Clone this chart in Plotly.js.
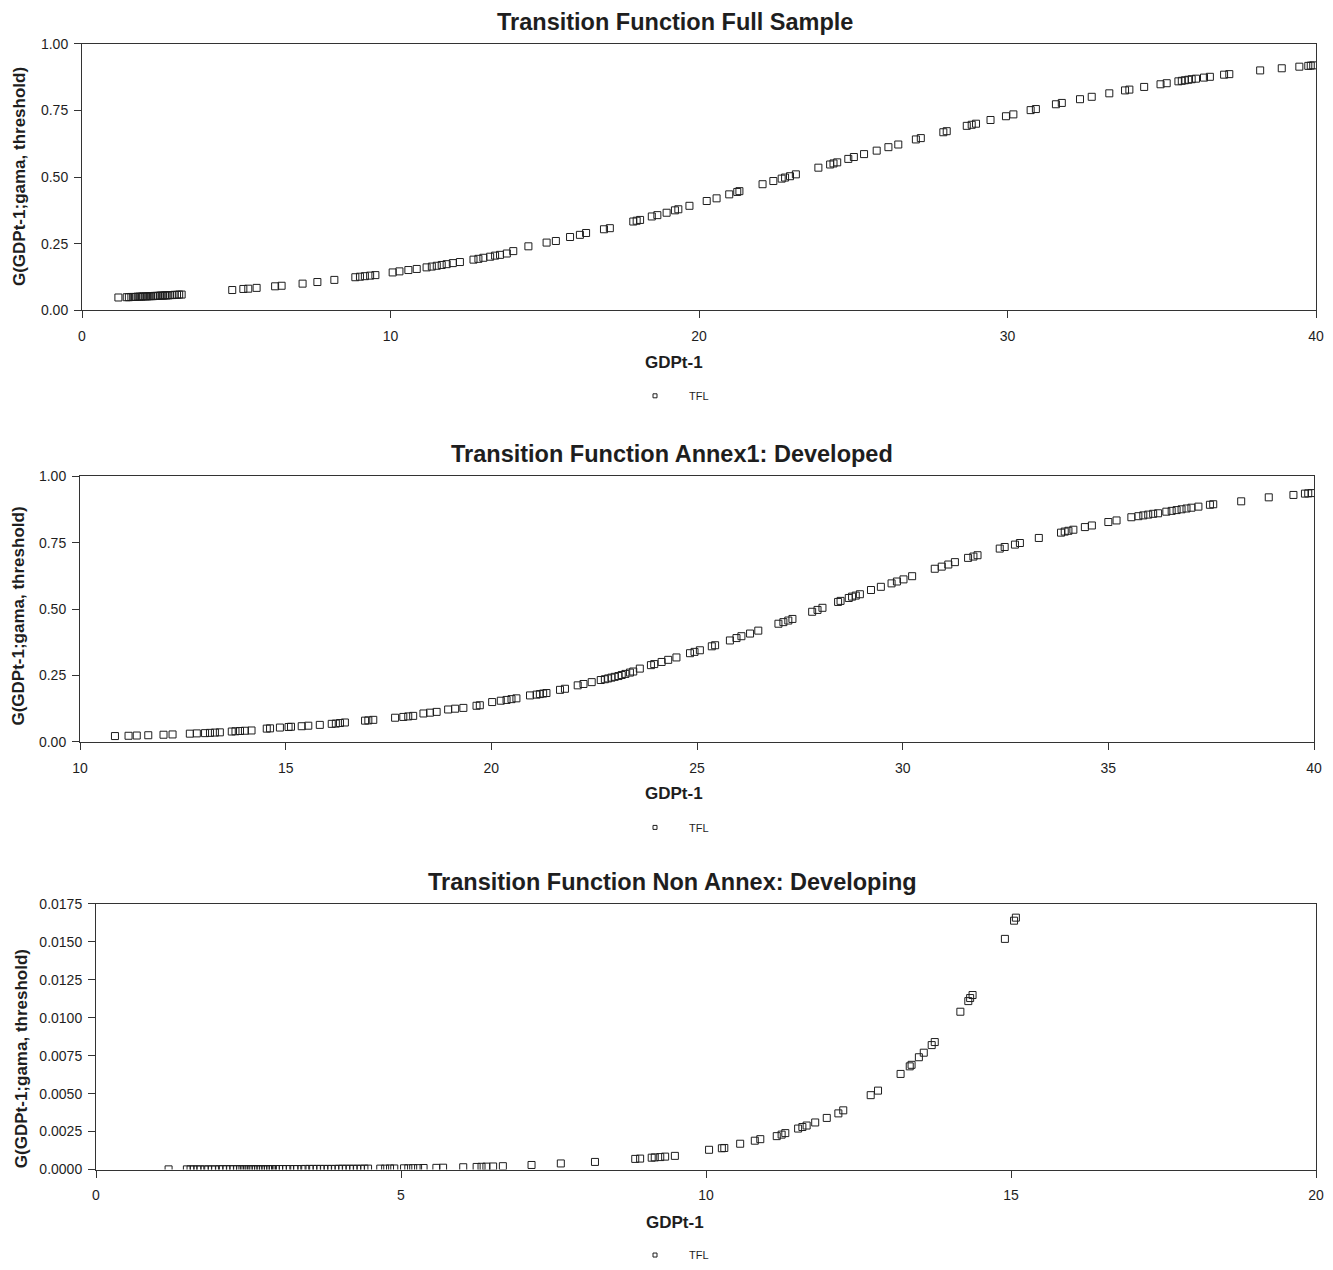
<!DOCTYPE html>
<html>
<head>
<meta charset="utf-8">
<script src="https://cdn.plot.ly/plotly-3.0.1.min.js"></script>
<style>html,body{margin:0;padding:0;background:#fff;}#chart{width:1333px;height:1270px;}</style>
</head>
<body>
<div id="chart"></div>
<script>
// ---- Data ----
const titles = ["Transition Function Full Sample", "Transition Function Annex1: Developed", "Transition Function Non Annex: Developing"];
const xTitle = "GDPt-1";
const yTitle = "G(GDPt-1;gama, threshold)";
const seriesName = "TFL";

const fullX = [1.18,1.45,1.52,1.60,1.66,1.72,1.80,1.86,1.92,1.98,2.05,2.11,2.18,2.24,2.30,2.36,2.42,2.47,2.53,2.58,2.63,2.69,2.74,2.80,2.86,2.93,3.00,3.08,3.15,3.23,
4.87,5.23,5.39,5.66,6.26,6.47,7.15,7.63,8.18,8.86,9.01,9.17,9.34,9.51,10.07,10.29,10.58,10.85,11.17,11.34,11.50,11.66,11.82,12.02,12.25,
12.69,12.85,13.01,13.23,13.39,13.55,13.77,13.98,14.47,15.06,15.36,15.82,16.14,16.34,16.92,17.11,17.87,17.98,18.09,18.47,18.65,18.95,19.22,19.33,19.69,
20.25,20.57,20.98,21.24,21.31,22.06,22.41,22.68,22.79,22.95,23.14,23.87,24.25,24.36,24.48,24.84,25.02,25.35,25.76,26.14,26.46,27.03,27.19,27.92,28.03,
28.68,28.84,28.98,29.45,29.95,30.19,30.75,30.92,31.57,31.76,32.35,32.73,33.30,33.81,33.95,34.43,34.96,35.16,35.54,35.65,35.75,35.86,35.97,36.11,
36.37,36.56,37.02,37.19,38.19,38.89,39.46,39.75,39.83,39.91];
const fullY = [0.048,0.049,0.049,0.050,0.050,0.050,0.051,0.051,0.051,0.052,0.052,0.052,0.053,0.053,0.053,0.054,0.054,0.054,0.055,0.055,0.055,0.056,0.056,0.056,0.057,0.057,0.058,0.058,0.059,0.059,
0.076,0.080,0.081,0.084,0.090,0.092,0.100,0.106,0.114,0.124,0.126,0.128,0.130,0.132,0.142,0.146,0.151,0.155,0.161,0.164,0.167,0.170,0.173,0.177,0.181,
0.190,0.193,0.197,0.201,0.205,0.208,0.213,0.222,0.240,0.254,0.260,0.275,0.283,0.290,0.304,0.308,0.333,0.336,0.339,0.352,0.357,0.366,0.375,0.379,0.392,
0.410,0.420,0.435,0.444,0.447,0.473,0.485,0.494,0.498,0.503,0.510,0.535,0.547,0.551,0.555,0.568,0.575,0.586,0.599,0.612,0.622,0.641,0.646,0.668,0.672,
0.692,0.696,0.700,0.714,0.728,0.735,0.751,0.755,0.773,0.778,0.792,0.801,0.814,0.825,0.828,0.838,0.848,0.852,0.859,0.861,0.863,0.865,0.867,0.869,
0.873,0.876,0.884,0.886,0.900,0.908,0.914,0.917,0.918,0.919];

const devX = [10.85,11.18,11.38,11.66,12.03,12.25,12.67,12.84,13.04,13.16,13.28,13.40,13.69,13.78,13.89,14.01,14.17,14.54,14.62,14.86,15.07,15.13,15.39,15.55,15.83,
16.12,16.22,16.32,16.44,16.93,17.01,17.13,17.66,17.86,17.98,18.10,18.35,18.51,18.67,18.95,19.12,19.32,19.64,19.72,20.02,20.23,20.37,20.49,20.61,20.94,
21.10,21.18,21.26,21.34,21.67,21.79,22.10,22.24,22.44,22.66,22.76,22.84,22.92,23.00,23.09,23.17,23.26,23.37,23.45,23.61,23.88,23.96,24.14,24.30,24.50,
24.83,24.94,25.07,25.36,25.44,25.80,25.96,26.08,26.29,26.49,26.98,27.10,27.22,27.32,27.80,27.93,28.05,28.43,28.49,28.69,28.77,28.86,28.96,29.23,29.47,
29.73,29.86,30.02,30.23,30.78,30.95,31.11,31.27,31.59,31.72,31.82,32.36,32.48,32.73,32.85,33.31,33.85,33.94,34.03,34.15,34.43,34.60,35.00,35.20,
35.56,35.73,35.85,35.97,36.09,36.21,36.41,36.54,36.66,36.78,36.90,37.02,37.19,37.47,37.55,38.23,38.90,39.50,39.78,39.86,39.94];
const devY = [0.022,0.023,0.024,0.025,0.027,0.028,0.031,0.032,0.033,0.034,0.035,0.036,0.039,0.040,0.041,0.042,0.043,0.050,0.051,0.054,0.056,0.057,0.059,0.061,0.064,
0.068,0.069,0.071,0.073,0.080,0.081,0.083,0.091,0.094,0.096,0.098,0.107,0.110,0.113,0.122,0.125,0.128,0.136,0.138,0.150,0.155,0.158,0.161,0.164,0.175,
0.178,0.180,0.182,0.184,0.196,0.200,0.213,0.218,0.225,0.233,0.236,0.239,0.242,0.245,0.248,0.252,0.256,0.261,0.265,0.276,0.289,0.293,0.301,0.309,0.318,
0.334,0.339,0.345,0.360,0.364,0.382,0.391,0.398,0.408,0.419,0.445,0.451,0.457,0.463,0.490,0.497,0.505,0.527,0.531,0.542,0.547,0.551,0.556,0.572,0.584,
0.597,0.604,0.612,0.624,0.652,0.660,0.668,0.677,0.693,0.698,0.703,0.728,0.734,0.743,0.749,0.768,0.788,0.792,0.795,0.799,0.809,0.815,0.828,0.834,
0.846,0.850,0.853,0.856,0.859,0.861,0.867,0.870,0.873,0.876,0.879,0.882,0.886,0.893,0.895,0.906,0.921,0.930,0.935,0.936,0.937];

const devingX = [1.19,1.49,1.55,1.60,1.66,1.71,1.78,1.84,1.90,1.95,2.02,2.08,2.14,2.20,2.25,2.31,2.36,2.40,2.45,2.50,2.54,2.58,2.62,2.66,2.70,2.74,2.78,2.82,2.86,2.90,
2.95,3.00,3.06,3.12,3.18,3.25,3.30,3.37,3.43,3.50,3.56,3.62,3.68,3.74,3.80,3.86,3.92,3.98,4.04,4.10,4.16,4.22,4.28,4.34,4.40,4.46,
4.66,4.74,4.82,4.89,5.05,5.12,5.20,5.28,5.37,5.58,5.69,6.02,6.24,6.32,6.40,6.51,6.67,7.14,7.62,8.18,8.84,8.92,9.11,9.16,9.25,9.33,9.49,
10.05,10.26,10.30,10.56,10.80,10.89,11.16,11.24,11.30,11.51,11.58,11.65,11.79,11.98,12.17,12.25,12.70,12.82,13.19,13.34,13.37,13.49,13.57,13.70,13.75,
14.17,14.30,14.33,14.37,14.90,15.05,15.08];
const devingY = [0.00001,0.00001,0.00001,0.00001,0.00001,0.00001,0.00001,0.00001,0.00001,0.00001,0.00002,0.00002,0.00002,0.00002,0.00002,0.00002,0.00002,0.00002,0.00002,0.00002,0.00002,0.00002,0.00002,0.00002,0.00002,0.00002,0.00002,0.00002,0.00003,0.00003,
0.00003,0.00003,0.00003,0.00003,0.00003,0.00003,0.00003,0.00003,0.00004,0.00004,0.00004,0.00004,0.00004,0.00004,0.00004,0.00004,0.00004,0.00005,0.00005,0.00005,0.00005,0.00005,0.00005,0.00005,0.00006,0.00006,
0.00006,0.00006,0.00007,0.00007,0.00008,0.00008,0.00009,0.00009,0.00010,0.00011,0.00012,0.00015,0.00017,0.00018,0.00019,0.00020,0.00022,0.00030,0.00040,0.00050,0.00070,0.00072,0.00078,0.00080,0.00082,0.00085,0.00090,
0.00130,0.00140,0.00142,0.00170,0.00190,0.00200,0.00220,0.00230,0.00240,0.00270,0.00280,0.00290,0.00310,0.00340,0.00370,0.00390,0.00490,0.00520,0.00630,0.00680,0.00690,0.00740,0.00770,0.00820,0.00840,
0.01040,0.01110,0.01130,0.01150,0.01520,0.01640,0.01660];

// ---- Layout helpers ----
const W = 1333, H = 1270;
const px = v => v / W;
const py = v => 1 - v / H;
const FONT = "Liberation Sans, Arial, sans-serif";
const INK = "#1e1e1e";

const marker = {symbol: "square-open", size: 7, color: INK, line: {width: 1, color: INK}};
const legendMarker = {symbol: "square-open", size: 4, color: INK, line: {width: 1, color: INK}};

const traces = [
  {x: fullX, y: fullY, xaxis: "x", yaxis: "y", type: "scatter", mode: "markers", marker: marker, name: seriesName, showlegend: false},
  {x: devX, y: devY, xaxis: "x2", yaxis: "y2", type: "scatter", mode: "markers", marker: marker, name: seriesName, showlegend: false},
  {x: devingX, y: devingY, xaxis: "x3", yaxis: "y3", type: "scatter", mode: "markers", marker: marker, name: seriesName, showlegend: false},
  {x: [null], y: [null], xaxis: "x", yaxis: "y", type: "scatter", mode: "markers", marker: legendMarker, name: seriesName, legend: "legend"},
  {x: [null], y: [null], xaxis: "x2", yaxis: "y2", type: "scatter", mode: "markers", marker: legendMarker, name: seriesName, legend: "legend2"},
  {x: [null], y: [null], xaxis: "x3", yaxis: "y3", type: "scatter", mode: "markers", marker: legendMarker, name: seriesName, legend: "legend3"}
];

function axis(domain, range, dtick, fmt, anchor, isY) {
  return {
    domain: domain, range: range, dtick: dtick, tick0: 0, tickformat: fmt, anchor: anchor,
    showline: true, mirror: true, linecolor: "#333", linewidth: 1,
    ticks: "outside", ticklen: 7, tickwidth: 1, tickcolor: "#333",
    ticklabelstandoff: isY ? 3 : 6,
    showgrid: false, zeroline: false, fixedrange: true,
    tickfont: {family: FONT, size: 14, color: INK}
  };
}

function legendAt(yc) {
  return {x: px(621), xanchor: "left", y: py(yc), yanchor: "middle", orientation: "h",
    font: {family: FONT, size: 11, color: INK}, bgcolor: "rgba(0,0,0,0)", itemwidth: 58};
}

const ann = [];
function addText(text, x, y, size, angle) {
  ann.push({text: text, x: px(x), y: py(y), xref: "paper", yref: "paper", showarrow: false,
    xanchor: "center", yanchor: "middle", textangle: angle || 0,
    font: {family: FONT, size: size, color: INK}});
}
addText("<b>" + titles[0] + "</b>", 675, 22, 23.5);
addText("<b>" + titles[1] + "</b>", 672, 457, 23.5);
addText("<b>" + titles[2] + "</b>", 672, 887, 23.5);
addText("<b>" + xTitle + "</b>", 674, 365, 17);
addText("<b>" + xTitle + "</b>", 674, 798, 17);
addText("<b>" + xTitle + "</b>", 675, 1229, 17);
addText("<b>" + yTitle + "</b>", 19, 178, 17, -90);
addText("<b>" + yTitle + "</b>", 19, 620, 17, -90);
addText("<b>" + yTitle + "</b>", 21, 1065, 17, -90);

const layout = {
  width: W, height: H, margin: {l: 0, r: 0, t: 0, b: 0},
  paper_bgcolor: "#fff", plot_bgcolor: "#fff",
  font: {family: FONT, color: INK},
  xaxis: axis([px(82), px(1316)], [0, 40], 10, "d", "y"),
  yaxis: axis([1 - 312 / H, 1 - 44 / H], [0, 1], 0.25, ".2f", "x", true),
  xaxis2: axis([px(80), px(1314)], [10, 40], 5, "d", "y2"),
  yaxis2: axis([1 - 746 / H, 1 - 479 / H], [0, 1], 0.25, ".2f", "x2", true),
  xaxis3: axis([px(96), px(1316)], [0, 20], 5, "d", "y3"),
  yaxis3: axis([1 - 1176 / H, 1 - 909 / H], [0, 0.0175], 0.0025, ".4f", "x3", true),
  legend: legendAt(398),
  legend2: legendAt(832),
  legend3: legendAt(1262),
  annotations: ann
};

Plotly.newPlot("chart", traces, layout, {displayModeBar: false, staticPlot: true});
</script>
</body>
</html>
